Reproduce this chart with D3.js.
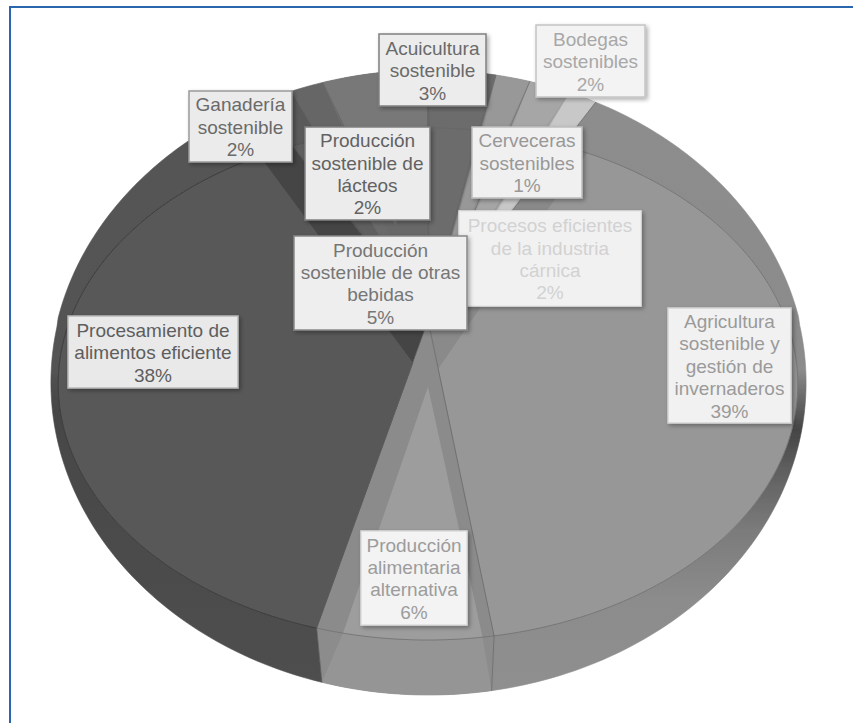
<!DOCTYPE html>
<html><head><meta charset="utf-8">
<script src="https://cdn.jsdelivr.net/npm/d3@7"></script>
<style>html,body{margin:0;padding:0;background:#fff}svg{display:block}text{font-family:"Liberation Sans",Arial,sans-serif}</style>
</head><body><svg id="c" width="853" height="723"></svg>
<script>
const categories = ["Agricultura sostenible y gestión de invernaderos","Producción alimentaria alternativa","Procesamiento de alimentos eficiente","Producción sostenible de lácteos","Ganadería sostenible","Producción sostenible de otras bebidas","Acuicultura sostenible","Cerveceras sostenibles","Bodegas sostenibles","Procesos eficientes de la industria cárnica"];
const shares = [40.2,6,38.55,1.6,1.5,4.55,2.95,1.5,1.85,1.3];
const percentLabels = ["39%","6%","38%","2%","2%","5%","3%","1%","2%","2%"];
const labelLines = [["Agricultura","sostenible y","gestión de","invernaderos"],["Producción","alimentaria","alternativa"],["Procesamiento de","alimentos eficiente"],["Producción","sostenible de","lácteos"],["Ganadería","sostenible"],["Producción","sostenible de otras","bebidas"],["Acuicultura","sostenible"],["Cerveceras","sostenibles"],["Bodegas","sostenibles"],["Procesos eficientes","de la industria","cárnica"]];

// Styling tables (same order as the slices)
const baseColor  = ["#8a8a8a","#8b8b8b","#444444","#5a5a5a","#666666","#686868","#686868","#8f8f8f","#9c9c9c","#bdbdbd"];
const faceColor  = ["#979797","#9d9d9d","#585858","#5e5e5e","#6a6a6a","#787878","#6c6c6c","#989898","#a6a6a6","#c8c8c8"];
const wallColor  = ["url(#wallR)","#8c8c8c","url(#wallL)","#5a5a5a","#666666","#686868","#686868","#8f8f8f","#9c9c9c","#bdbdbd"];
const wallFace   = [null,"#959595",null,null,null,"#787878","#6c6c6c","#989898","#a6a6a6","#c8c8c8"];
const insets = [[5.2,0,0.2,173],[1.4,3.3,0.26,180],[0,6.9,0.176,193],[0,0,0.02,0],[0,0,0.02,0],[0.4,0,0.45,347],[0.5,0.5,0.05,6],[0.5,0.5,0.05,13],[0.5,0.5,0.05,19],[0.5,0.5,0.05,25]];
const textColor  = ["#9a9a9a","#9c9c9c","#5e5e5e","#626262","#6a6a6a","#767676","#6a6a6a","#989898","#a8a8a8","#d2d2d2"];
const boxFill    = ["#f1f1f1","#f3f3f3","#e9e9e9","#ececec","#ebebeb","#eeeeee","#ececec","#f0f0f0","#f3f3f3","#f1f1f1"];
const boxStroke  = ["#d4d4d4","#dcdcdc","#b8b8b8","#808080","#9a9a9a","#888888","#808080","#bdbdbd","#c4c4c4","#e4e4e4"];
const boxes = [[668,308,123,115],[361,531,106,94],[68,316,170,72],[305,127,125,93],[189,91,103,71],[294,236,173,94],[379,34,107,72],[472,127,110,71],[536,25,109,72],[459,211,182,95]];
const drawOrder = [9,8,7,6,4,3,5,0,1,2];
const labelOrder = [9,0,1,2,3,4,5,6,7,8];

const svg = d3.select("#c");
const rad = d => d*Math.PI/180;
const top_ = {cx:428,cy:320,a:358,b:240,k:.25};
const bot_ = {cx:428.5,cy:324.4,a:371,b:301.7,k:.186};
const E3 = {cx:428.5,cy:382.5,rx:378.5,ry:312.5};
function proj(h,r,t){const x=r*Math.sin(t),y=r*Math.cos(t),w=1+h.k*y;return [h.cx+h.a*x/w,h.cy-h.b*y/w];}
function rayOut(t){
  const p=proj(top_,1,t),dx=p[0]-top_.cx,dy=p[1]-top_.cy,ox=top_.cx-E3.cx,oy=top_.cy-E3.cy;
  const A=dx*dx/E3.rx/E3.rx+dy*dy/E3.ry/E3.ry,B=2*(ox*dx/E3.rx/E3.rx+oy*dy/E3.ry/E3.ry),C=ox*ox/E3.rx/E3.rx+oy*oy/E3.ry/E3.ry-1;
  const s=(-B+Math.sqrt(B*B-4*A*C))/(2*A);return [top_.cx+s*dx,top_.cy+s*dy];
}
const outer = t => Math.cos(t)>0 ? rayOut(t) : proj(bot_,1,t);
const inner = t => proj(top_,1,t);
const arc = (f,a,b) => { const n=Math.max(2,Math.ceil(Math.abs(b-a)/rad(1)));return d3.range(n+1).map(i=>f(a+(b-a)*i/n)); };
const line = d3.line().curve(d3.curveLinear);
const closed = pts => line(pts)+"Z";

const pie = d3.pie().sort(null).startAngle(rad(27.3)).endAngle(rad(387.3));
const slices = pie(shares);

// defs
const defs = svg.append("defs");
const grad=(id,stops,y1,y2)=>{const g=defs.append("linearGradient").attr("id",id).attr("gradientUnits","userSpaceOnUse").attr("x1",0).attr("x2",0).attr("y1",y1).attr("y2",y2);
  stops.forEach(s=>g.append("stop").attr("offset",(s[0]-y1)/(y2-y1)).attr("stop-color",s[1]));};
grad("wallR",[[100,"#8d8d8d"],[370,"#8b8b8b"],[395,"#6c6c6c"],[430,"#454545"],[470,"#5f5f5f"],[530,"#7b7b7b"],[600,"#8c8c8c"],[700,"#8f8f8f"]],100,700);
grad("wallL",[[100,"#555555"],[370,"#535353"],[410,"#464646"],[500,"#4a4a4a"],[700,"#4f4f4f"]],100,700);
const f=defs.append("filter").attr("id","sh").attr("x","-20%").attr("y","-20%").attr("width","140%").attr("height","140%");
f.append("feDropShadow").attr("dx",2).attr("dy",2).attr("stdDeviation",2.2).attr("flood-color","#000").attr("flood-opacity",.32);
const soft=defs.append("filter").attr("id","soft");soft.append("feGaussianBlur").attr("stdDeviation",.35);

// frame
svg.append("path").attr("d","M10,723V7H853").attr("fill","none").attr("stroke","#2a66ad").attr("stroke-width",2);

const pieG = svg.append("g").attr("filter","url(#soft)");
drawOrder.forEach(i=>{
  const s=slices[i],a=s.startAngle,b=s.endAngle,ins=insets[i];
  const ia=a+rad(ins[0]),ib=b-rad(ins[1]);
  // wall
  pieG.append("path").attr("d",closed(arc(inner,a,b).concat(arc(outer,b,a)))).attr("fill",wallColor[i]).attr("stroke",wallColor[i]).attr("stroke-width",.6);
  if(wallFace[i]) pieG.append("path").attr("d",closed(arc(inner,ia,ib).concat(arc(outer,b,a)))).attr("fill",wallFace[i]);
  // top face
  const ap=[top_.cx,top_.cy];
  pieG.append("path").attr("d",closed([ap].concat(arc(inner,a,b)))).attr("fill",baseColor[i]).attr("stroke",baseColor[i]).attr("stroke-width",.6);
  pieG.append("path").attr("d",closed([proj(top_,ins[2],rad(ins[3]))].concat(arc(inner,ia,ib)))).attr("fill",faceColor[i]);
});
// rim arc and slice edges
slices.forEach((s,i)=>{
  const dark=(i===2||i===3);
  pieG.append("path").attr("d",line(arc(inner,s.startAngle,s.endAngle))).attr("fill","none").attr("stroke",dark?"#2e2e2e":"#5f5f5f").attr("stroke-width",.9).attr("stroke-opacity",Math.cos((s.startAngle+s.endAngle)/2)>0?.25:.6);
});
const edges=[0,1];
edges.forEach(i=>{
  const t=slices[i].endAngle;
  pieG.append("path").attr("d",line([[top_.cx,top_.cy],inner(t),outer(t)])).attr("fill","none").attr("stroke","#666").attr("stroke-width",.9).attr("stroke-opacity",i===0?.8:.3);
});
[slices[5].endAngle,slices[7].endAngle,slices[9].endAngle].forEach(t=>{
  pieG.append("path").attr("d",line([[top_.cx,top_.cy],outer(t)])).attr("fill","none").attr("stroke","#555").attr("stroke-width",.8).attr("stroke-opacity",.6);
});

// labels
const lbl = svg.append("g").selectAll("g").data(labelOrder).join("g");
lbl.each(function(i){
  const g=d3.select(this),bx=boxes[i];
  g.append("rect").attr("x",bx[0]).attr("y",bx[1]).attr("width",bx[2]).attr("height",bx[3]).attr("fill",boxFill[i]).attr("stroke",boxStroke[i]).attr("stroke-width",1.5).attr("filter","url(#sh)");
  const lines=labelLines[i].concat(percentLabels[i]);
  const lh=22.4, y0=bx[1]+bx[3]/2-(lines.length*lh)/2+lh*.77+1.2;
  g.selectAll("text").data(lines).join("text").attr("x",bx[0]+bx[2]/2).attr("y",(_,j)=>y0+j*lh).attr("text-anchor","middle").attr("font-size",19).attr("fill",textColor[i]).text(t=>t);
});
</script></body></html>
